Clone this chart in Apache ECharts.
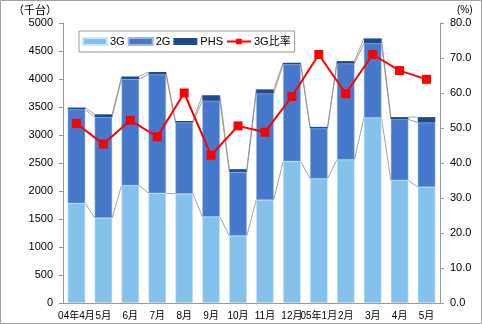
<!DOCTYPE html>
<html><head><meta charset="utf-8">
<script src="https://cdn.jsdelivr.net/npm/echarts@6/dist/echarts.min.js"></script>
<style>html,body{margin:0;padding:0;background:#fff}#c{width:482px;height:324px}</style>
</head><body><div id="c"></div>
<script>
var categories = ['04年4月','5月','6月','7月','8月','9月','10月','11月','12月','05年1月','2月','3月','4月','5月'];
var g3 = [1780,1520,2100,1960,1950,1540,1200,1840,2530,2220,2560,3310,2190,2070];
var g2 = [1675,1800,1900,2120,1270,2070,1140,1900,1730,895,1715,1325,1090,1150];
var phs = [35,50,45,45,30,100,50,75,30,30,45,90,40,100];
var ratio = [51.3,45.4,52.2,47.5,60.0,42.2,50.6,48.8,59.0,71.0,59.8,71.0,66.4,63.9];
var leftTicks = {min:0, max:5000, interval:500};
var rightTicks = {min:0, max:80, interval:10};

var FONT = '"Liberation Sans", "Noto Sans CJK JP", sans-serif';
var GAP = 0.35;
var c1 = [], c2 = [], c3 = [];
for (var i = 0; i < categories.length; i++) {
  c1.push(g3[i]); c2.push(g3[i] + g2[i]); c3.push(g3[i] + g2[i] + phs[i]);
}
var seriesLineData = [];
for (var j = 0; j < categories.length - 1; j++) {
  seriesLineData.push([j, c1[j], c2[j], c3[j], c1[j+1], c2[j+1], c3[j+1]]);
}
var chart = echarts.init(document.getElementById('c'));
chart.setOption({
  animation: false,
  textStyle: {fontFamily: FONT},
  grid: {left: 63, right: 42, top: 23, bottom: 21},
  graphic: [
    {type: 'rect', shape: {x: 0.5, y: 0.5, width: 481, height: 323}, style: {fill: 'none', stroke: '#a0a0a0', lineWidth: 1}, z: 100},
    {type: 'text', left: 13, top: 5, style: {text: '（千台）', font: '11px ' + FONT, fill: '#000'}},
    {type: 'text', left: 457, top: 5, style: {text: '(%)', font: '10px ' + FONT, fill: '#000'}}
  ],
  legend: {
    left: 79, top: 31, itemWidth: 24, itemHeight: 7, itemGap: 3,
    padding: [5, 4, 5, 3],
    borderColor: '#999', borderWidth: 1, backgroundColor: '#fff',
    textStyle: {fontSize: 11, color: '#000', fontFamily: FONT, padding: [0, 0, 0, -2]},
    data: [
      {name: '3G', icon: 'rect'}, {name: '2G', icon: 'rect'}, {name: 'PHS', icon: 'rect'}, {name: '3G比率'}
    ]
  },
  xAxis: {
    type: 'category', data: categories,
    axisLine: {lineStyle: {color: '#999'}},
    axisTick: {inside: true, length: 4, lineStyle: {color: '#999'}},
    axisLabel: {interval: 0, fontSize: 10, color: '#000', margin: 8, hideOverlap: false}
  },
  yAxis: [
    {type: 'value', min: leftTicks.min, max: leftTicks.max, interval: leftTicks.interval,
     splitLine: {show: false},
     axisLine: {show: true, lineStyle: {color: '#999'}},
     axisTick: {show: true, length: 4, lineStyle: {color: '#999'}},
     axisLabel: {fontSize: 11, color: '#000', margin: 10, formatter: function (v) { return String(v); }}},
    {type: 'value', min: rightTicks.min, max: rightTicks.max, interval: rightTicks.interval,
     position: 'right', splitLine: {show: false},
     axisLine: {show: true, lineStyle: {color: '#999'}},
     axisTick: {show: true, length: 4, lineStyle: {color: '#999'}},
     axisLabel: {fontSize: 11, color: '#000', margin: 10, formatter: function (v) { return v.toFixed(1); }}}
  ],
  series: [
    {name: '3G', type: 'bar', stack: 't', data: g3, barCategoryGap: (GAP * 100) + '%',
     itemStyle: {color: '#84C2EB', borderColor: '#cfe6f7', borderWidth: 0.5}},
    {name: '2G', type: 'bar', stack: 't', data: g2,
     itemStyle: {color: '#4679CC', borderColor: '#9bb6e2', borderWidth: 0.5}},
    {name: 'PHS', type: 'bar', stack: 't', data: phs,
     itemStyle: {color: '#1F4C88'}},
    {name: 'serieslines', type: 'custom', z: 1, silent: true, data: seriesLineData,
     renderItem: function (params, api) {
       var w = api.size([1, 0])[0] * (1 - GAP);
       var idx = api.value(0);
       var children = [];
       for (var k = 1; k <= 3; k++) {
         var a = api.coord([idx, api.value(k)]);
         var b = api.coord([idx + 1, api.value(k + 3)]);
         children.push({type: 'line', shape: {x1: a[0] + w / 2, y1: a[1], x2: b[0] - w / 2, y2: b[1]},
           style: {stroke: '#8c8c8c', lineWidth: 0.8}});
       }
       return {type: 'group', children: children};
     }},
    {name: '3G比率', type: 'line', yAxisIndex: 1, data: ratio, z: 5,
     symbol: 'rect', symbolSize: 9,
     lineStyle: {color: '#FF0000', width: 2}, itemStyle: {color: '#FF0000'}}
  ]
});
</script></body></html>
